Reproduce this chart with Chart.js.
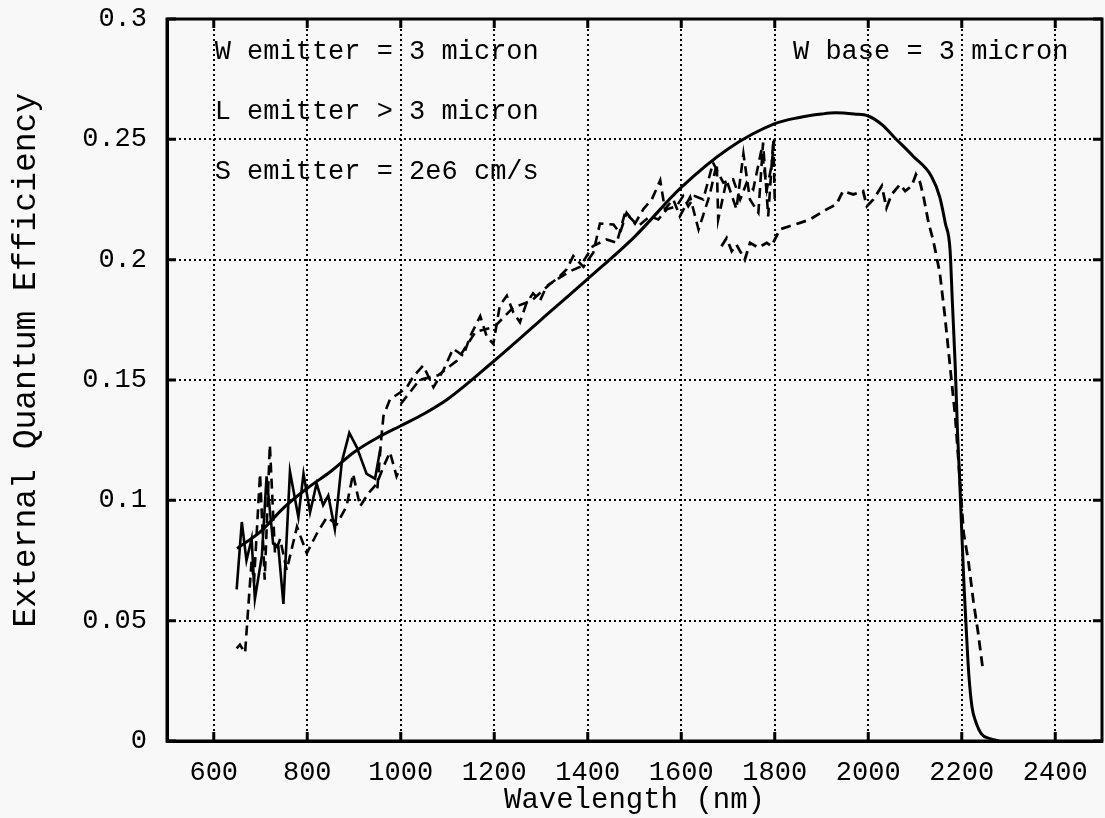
<!DOCTYPE html>
<html>
<head>
<meta charset="utf-8">
<script src="https://cdn.jsdelivr.net/npm/chart.js@4.4.0/dist/chart.umd.min.js"></script>
<style>
  html, body { margin: 0; padding: 0; background: #f8f8f8; }
</style>
</head>
<body>
<canvas id="chart" width="1105" height="818"></canvas>
<script>
// axis ticks
const xTicks = [600, 800, 1000, 1200, 1400, 1600, 1800, 2000, 2200, 2400];
const yTicks = [0, 0.05, 0.1, 0.15, 0.2, 0.25, 0.3];
const yTickLabels = ['0', '0.05', '0.1', '0.15', '0.2', '0.25', '0.3'];

// calculated EQE (smooth solid curve)
const modelWl  = [650, 700, 750, 800, 850, 900, 950, 1000, 1050, 1100, 1200, 1300, 1400, 1500, 1600, 1700, 1800, 1850, 1900, 1930, 1970, 2000, 2030, 2055, 2096, 2135, 2153, 2165, 2175, 2180, 2186, 2191, 2195, 2200, 2205, 2210, 2215, 2222, 2230, 2242, 2260, 2280];
const modelEqe = [0.080, 0.087, 0.097, 0.105, 0.112, 0.120, 0.126, 0.131, 0.136, 0.142, 0.158, 0.175, 0.192, 0.2095, 0.230, 0.246, 0.2565, 0.259, 0.2605, 0.261, 0.2605, 0.2597, 0.256, 0.251, 0.243, 0.2347, 0.226, 0.215, 0.204, 0.182, 0.156, 0.128, 0.111, 0.087, 0.064, 0.045, 0.028, 0.014, 0.008, 0.003, 0.001, 0];

// measured, short wavelength detector (solid jagged)
const measWl  = [649, 660, 670, 681, 688, 703, 713, 727, 738, 749, 763, 781, 792, 806, 820, 834, 845, 859, 874, 890, 906, 927, 945, 956];
const measEqe = [0.063, 0.091, 0.075, 0.084, 0.059, 0.077, 0.110, 0.082, 0.081, 0.057, 0.112, 0.093, 0.111, 0.095, 0.107, 0.098, 0.102, 0.088, 0.116, 0.128, 0.122, 0.111, 0.109, 0.121];

// measured, dashed, 650-1000 nm
const dashAWl  = [649, 656, 667, 674, 681, 686, 699, 709, 720, 731, 742, 756, 778, 799, 820, 842, 863, 884, 898, 913, 931, 949, 963, 977, 991, 1000];
const dashAEqe = [0.0385, 0.040, 0.0366, 0.056, 0.075, 0.066, 0.111, 0.067, 0.123, 0.078, 0.084, 0.071, 0.089, 0.078, 0.086, 0.093, 0.090, 0.0975, 0.111, 0.0975, 0.103, 0.107, 0.114, 0.120, 0.110, 0.114];

// measured, dashed, 950-1800 nm
const dashBWl  = [950, 958, 963, 977, 998, 1013, 1027, 1048, 1070, 1091, 1112, 1134, 1148, 1170, 1184, 1198, 1212, 1227, 1241, 1255, 1269, 1283, 1298, 1312, 1334, 1355, 1369, 1391, 1412, 1426, 1455, 1469, 1483, 1501, 1519, 1537, 1555, 1565, 1583, 1597, 1619, 1637, 1661, 1676, 1679, 1697, 1718, 1733, 1747, 1765, 1775, 1786, 1797, 1800];
const dashBEqe = [0.105, 0.125, 0.135, 0.142, 0.1447, 0.147, 0.1515, 0.156, 0.147, 0.154, 0.163, 0.160, 0.168, 0.1765, 0.168, 0.165, 0.181, 0.185, 0.178, 0.174, 0.182, 0.186, 0.183, 0.189, 0.192, 0.196, 0.2015, 0.197, 0.203, 0.215, 0.2146, 0.211, 0.2195, 0.215, 0.221, 0.225, 0.233, 0.221, 0.225, 0.218, 0.226, 0.2125, 0.227, 0.240, 0.2167, 0.233, 0.221, 0.244, 0.225, 0.2195, 0.2486, 0.218, 0.250, 0.225];

// second dashed trace, 1000-1800 nm
const dashB2Wl  = [1000, 1040, 1080, 1120, 1160, 1200, 1240, 1280, 1320, 1360, 1383, 1411, 1440, 1462, 1480, 1508, 1533, 1551, 1569, 1590, 1604, 1615, 1629, 1647, 1668, 1690, 1711, 1726, 1740, 1754, 1772, 1783, 1793, 1799];
const dashB2Eqe = [0.140, 0.150, 0.152, 0.158, 0.170, 0.172, 0.180, 0.183, 0.190, 0.195, 0.197, 0.2056, 0.2084, 0.207, 0.2196, 0.214, 0.218, 0.2167, 0.2209, 0.2222, 0.2264, 0.2222, 0.2264, 0.225, 0.2403, 0.232, 0.2334, 0.225, 0.232, 0.2292, 0.246, 0.2292, 0.2389, 0.250];

// measured, dashed, 1700-2250 nm
const dashCWl  = [1686, 1697, 1708, 1718, 1736, 1747, 1765, 1783, 1793, 1811, 1833, 1854, 1875, 1893, 1911, 1932, 1946, 1968, 1989, 1997, 2011, 2029, 2039, 2050, 2068, 2079, 2093, 2102, 2111, 2118, 2129, 2139, 2153, 2164, 2175, 2186, 2195, 2204, 2214, 2225, 2235, 2245];
const dashCEqe = [0.2056, 0.209, 0.2036, 0.2063, 0.200, 0.207, 0.205, 0.207, 0.2056, 0.2126, 0.214, 0.2153, 0.2167, 0.2188, 0.2209, 0.223, 0.2285, 0.2271, 0.2285, 0.2222, 0.225, 0.2306, 0.2215, 0.2271, 0.2313, 0.2285, 0.2306, 0.2354, 0.232, 0.2264, 0.2153, 0.208, 0.1946, 0.1765, 0.1557, 0.135, 0.111, 0.0865, 0.075, 0.058, 0.045, 0.030];

// text labels inside the plot
const notes = [
    { text: 'W emitter = 3 micron', x: 602, y: 0.2863 },
    { text: 'L emitter > 3 micron', x: 602, y: 0.2613 },
    { text: 'S emitter = 2e6 cm/s', x: 602, y: 0.2363 },
    { text: 'W base = 3 micron', x: 1839, y: 0.2863 }
];

const FONT = "'Liberation Mono', 'DejaVu Sans Mono', monospace";

function pairs(xs, ys) {
    return xs.map((x, i) => ({ x: x, y: ys[i] }));
}

function line(data, dash, width, smooth) {
    return {
        data: data,
        borderColor: '#000',
        borderWidth: width,
        borderDash: dash,
        pointRadius: 0,
        fill: false,
        tension: smooth ? 0.4 : 0,
        cubicInterpolationMode: smooth ? 'monotone' : 'default'
    };
}

// frame and inward tick marks
const framePlugin = {
    id: 'frame',
    afterDraw(chart) {
        const { ctx, chartArea: a, scales: { x, y } } = chart;
        ctx.save();
        ctx.strokeStyle = '#000';
        ctx.lineWidth = 3;
        ctx.strokeRect(a.left, a.top, a.right - a.left, a.bottom - a.top);
        ctx.beginPath();
        xTicks.forEach(v => {
            const px = x.getPixelForValue(v);
            ctx.moveTo(px, a.bottom); ctx.lineTo(px, a.bottom - 9);
            ctx.moveTo(px, a.top); ctx.lineTo(px, a.top + 9);
        });
        yTicks.forEach(v => {
            const py = y.getPixelForValue(v);
            ctx.moveTo(a.left, py); ctx.lineTo(a.left + 9, py);
            ctx.moveTo(a.right, py); ctx.lineTo(a.right - 9, py);
        });
        ctx.stroke();
        ctx.restore();
    }
};

const notesPlugin = {
    id: 'notes',
    afterDatasetsDraw(chart) {
        const { ctx, scales: { x, y } } = chart;
        ctx.save();
        ctx.fillStyle = '#000';
        ctx.font = '27px ' + FONT;
        ctx.textAlign = 'left';
        ctx.textBaseline = 'middle';
        notes.forEach(n => ctx.fillText(n.text, x.getPixelForValue(n.x), y.getPixelForValue(n.y)));
        ctx.restore();
    }
};

const ctx = document.getElementById('chart').getContext('2d');
new Chart(ctx, {
    type: 'line',
    data: {
        datasets: [
            line(pairs(modelWl, modelEqe), [], 3, true),
            line(pairs(measWl, measEqe), [], 2.6, false),
            line(pairs(dashAWl, dashAEqe), [10, 6], 2.6, false),
            line(pairs(dashBWl, dashBEqe), [10, 6], 2.6, false),
            line(pairs(dashB2Wl, dashB2Eqe), [10, 6], 2.6, false),
            line(pairs(dashCWl, dashCEqe), [10, 6], 2.8, false)
        ]
    },
    options: {
        responsive: false,
        animation: false,
        layout: { padding: { top: 19, right: 3, left: 0, bottom: 0 } },
        plugins: { legend: { display: false }, tooltip: { enabled: false } },
        scales: {
            x: {
                type: 'linear',
                min: 500,
                max: 2500,
                afterBuildTicks: scale => { scale.ticks = xTicks.map(v => ({ value: v })); },
                afterFit: scale => {
                    scale.height = 77;
                    scale.paddingLeft = 0;
                    scale.paddingRight = 0;
                },
                grid: { color: '#000', lineWidth: 2, drawTicks: false },
                border: { display: true, color: '#000', width: 3, dash: [2, 3] },
                ticks: {
                    padding: 16,
                    color: '#000',
                    font: { family: FONT, size: 27 },
                    callback: v => String(v)
                },
                title: {
                    display: true,
                    text: 'Wavelength (nm)',
                    color: '#000',
                    font: { family: FONT, size: 29 },
                    padding: { top: 0, bottom: 0 }
                }
            },
            y: {
                min: 0,
                max: 0.3,
                afterBuildTicks: scale => { scale.ticks = yTicks.map(v => ({ value: v })); },
                afterFit: scale => {
                    scale.width = 167;
                    scale.paddingTop = 0;
                    scale.paddingBottom = 0;
                },
                grid: { color: '#000', lineWidth: 2, drawTicks: false },
                border: { display: true, color: '#000', width: 3, dash: [2, 3] },
                ticks: {
                    padding: 20,
                    color: '#000',
                    font: { family: FONT, size: 27 },
                    callback: (v, i) => yTickLabels[i]
                },
                title: {
                    display: true,
                    text: '  External Quantum Efficiency',
                    color: '#000',
                    font: { family: FONT, size: 33 },
                    padding: { top: 6, bottom: 0 }
                }
            }
        }
    },
    plugins: [framePlugin, notesPlugin]
});
</script>
</body>
</html>
